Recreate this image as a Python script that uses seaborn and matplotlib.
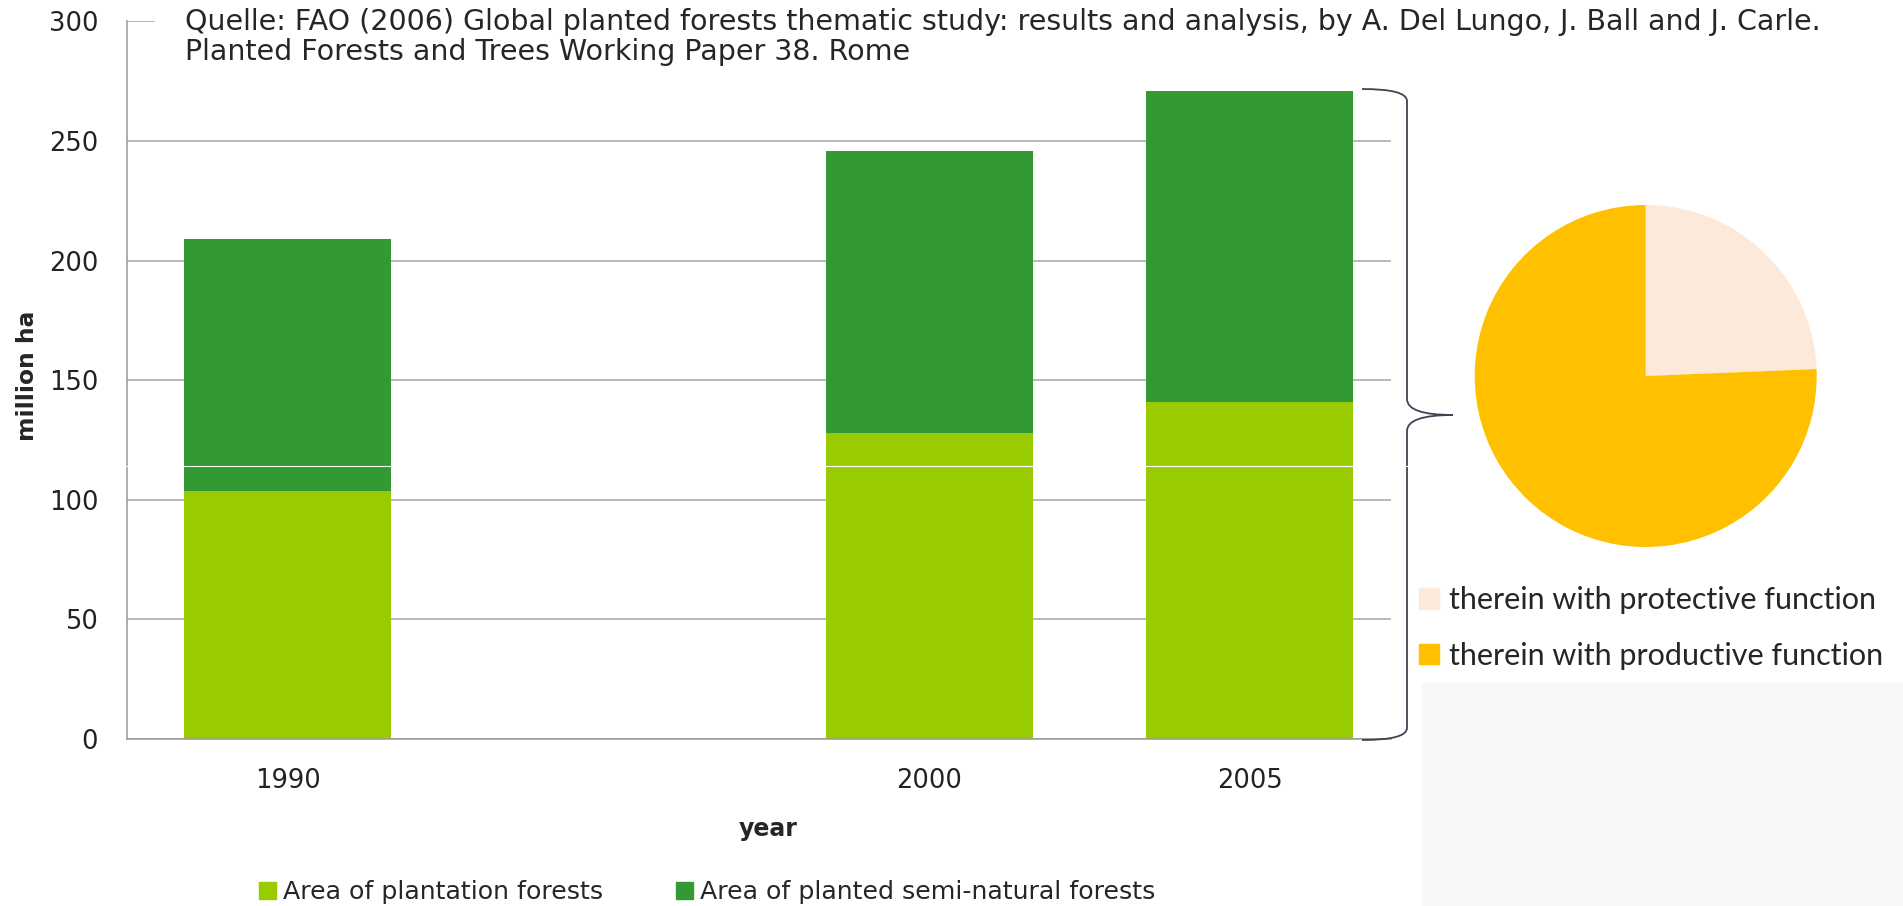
import numpy as np
import pandas as pd
import matplotlib.pyplot as plt
from matplotlib.patches import Patch, Rectangle, PathPatch
from matplotlib.path import Path
from matplotlib.lines import Line2D
import seaborn as sns

# values (million ha)
years = [1990, 2000, 2005]
plantation = [103.5, 128.0, 141.0]
semi_natural = [105.5, 118.0, 130.0]

series_names = ["Area of plantation forests", "Area of planted semi-natural forests"]

# 2005 split by function
functions = ["therein with protective function", "therein with productive function"]
function_area = [66, 205]

source = ("Quelle: FAO (2006) Global planted forests thematic study: results and analysis, "
          "by A. Del Lungo, J. Ball and J. Carle.\nPlanted Forests and Trees Working Paper 38. Rome")

LIGHT = "#99CC00"
DARK = "#339933"
PIE_COLORS = ["#FDE9D9", "#FFC000"]
GRID = "#A6A6A6"

sns.set_style("white")
plt.rcParams["font.family"] = ["DejaVu Sans"]

W, H = 1903, 906
fig = plt.figure(figsize=(W / 100, H / 100), dpi=100)


def fx(px):
    return px / W


def fy(py):
    return 1 - py / H


# light grey panel in the lower right corner
fig.patches.append(Rectangle((fx(1422), 0), 1 - fx(1422), fy(683), transform=fig.transFigure,
                             facecolor="#F7F7F7", edgecolor="none", zorder=-5))

df = pd.DataFrame({"year": years, "plantation": plantation,
                   "total": np.add(plantation, semi_natural)})

ax = fig.add_axes([fx(127.4), fy(739), fx(1391) - fx(127.4), fy(21.4) - fy(739)])
ax.set_facecolor("none")
sns.barplot(data=df, x="year", y="total", native_scale=True, orient="x", width=0.646,
            color=DARK, saturation=1, errorbar=None, linewidth=0, ax=ax)
sns.barplot(data=df, x="year", y="plantation", native_scale=True, orient="x", width=0.646,
            color=LIGHT, saturation=1, errorbar=None, linewidth=0, ax=ax)

ax.set_xlim(1987.5, 2007.2)
ax.set_ylim(0, 300)
ax.set_yticks(range(0, 301, 50))
ax.set_xticks(years)
ax.set_xticklabels([str(y) for y in years])
ax.set_xlabel("")
ax.set_ylabel("")
ax.yaxis.grid(True, color=GRID, lw=1.1)
ax.set_axisbelow(True)
for s in ["top", "right"]:
    ax.spines[s].set_visible(False)
for s in ["left", "bottom"]:
    ax.spines[s].set_color("#999999")
    ax.spines[s].set_linewidth(1.1)
ax.tick_params(axis="y", length=0, pad=21, labelsize=18.5, labelcolor="#222222")
ax.tick_params(axis="x", length=0, pad=21, labelsize=18.5, labelcolor="#222222")

fig.text(fx(28), fy(376), "million ha", rotation=90, ha="center", va="center",
         fontsize=16.8, fontweight="bold")
fig.text(fx(768), fy(829), "year", ha="center", va="center", fontsize=17, fontweight="bold")

# source note (baseline of the second line), white box hides the top grid line
fig.text(fx(185), fy(60), source, ha="left", va="baseline", fontsize=20.5, linespacing=1.1,
         bbox=dict(boxstyle="square,pad=0", facecolor="white", edgecolor="none"), zorder=5)
fig.patches.append(Rectangle((fx(155), fy(40)), fx(186) - fx(155), fy(8) - fy(40),
                             transform=fig.transFigure, facecolor="white", edgecolor="none", zorder=4))

fig.legend(handles=[Patch(color=LIGHT), Patch(color=DARK)], labels=series_names,
           loc="center left", bbox_to_anchor=(fx(259), fy(892)), ncol=2, frameon=False,
           fontsize=18.2, handlelength=0.67, handleheight=0.67, handletextpad=0.28,
           columnspacing=2.9, borderpad=0, borderaxespad=0)

# pie of the 2005 total
pax = fig.add_axes([fx(1645.7 - 171), fy(376 + 171), fx(342), fx(342) * W / H])
pax.pie(function_area, colors=PIE_COLORS, startangle=90, counterclock=False,
        wedgeprops=dict(linewidth=0))
pax.set_xlim(-1, 1)
pax.set_ylim(-1, 1)
pax.set_aspect("equal")

fig.legend(handles=[Patch(color=c) for c in PIE_COLORS], labels=functions,
           loc="center left", bbox_to_anchor=(fx(1419.3), fy(628)), frameon=False,
           prop=dict(family="Lato", size=22), handlelength=0.65, handleheight=0.65,
           handletextpad=0.32, labelspacing=0.89, borderpad=0, borderaxespad=0)

# curly brace linking the 2005 bar to the pie
pts = [(1362, 89), (1407, 89), (1407, 101), (1407, 399), (1407, 415), (1453, 415),
       (1453, 415), (1407, 415), (1407, 431), (1407, 728), (1407, 740), (1362, 740)]
codes = [Path.MOVETO, Path.CURVE3, Path.CURVE3, Path.LINETO, Path.CURVE3, Path.CURVE3,
         Path.MOVETO, Path.CURVE3, Path.CURVE3, Path.LINETO, Path.CURVE3, Path.CURVE3]
brace = Path([(fx(x), fy(y)) for x, y in pts], codes)
fig.patches.append(PathPatch(brace, transform=fig.transFigure, facecolor="none",
                             edgecolor="#3A4652", lw=1.3, zorder=6))

# faint white scan line across the picture
fig.add_artist(Line2D([0, fx(1422)], [fy(466), fy(466)], color="white", lw=0.8, zorder=7))

fig.savefig("out.png", dpi=100)
